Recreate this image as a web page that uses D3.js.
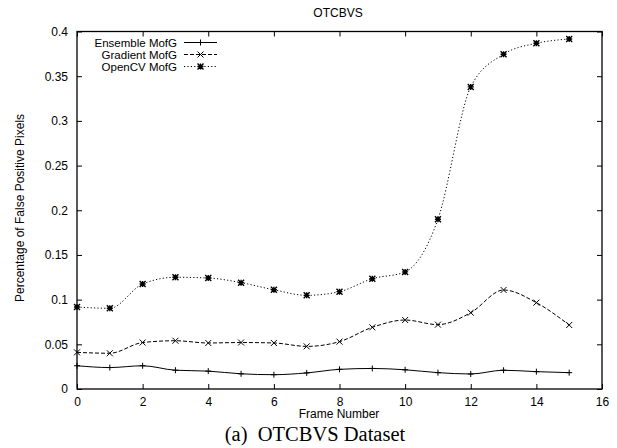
<!DOCTYPE html>
<head>
  <meta charset="utf-8">
  <script src="https://d3js.org/d3.v7.min.js"></script>
  <style>
    body { margin:0; background:#fff; }
    text { font-family: "Liberation Sans", Arial, sans-serif; fill:#000; }
  </style>
</head>
<body>
  <svg id="chart" width="617" height="448"></svg>
  <script>
    // data
    var frames = d3.range(0, 16);
    var ensemble = [0.026, 0.024, 0.026, 0.021, 0.020, 0.017, 0.016, 0.018, 0.022, 0.023, 0.0215, 0.0183, 0.0168, 0.021, 0.0194, 0.0183];
    var gradient = [0.041, 0.040, 0.052, 0.054, 0.0515, 0.052, 0.0515, 0.0477, 0.053, 0.069, 0.0772, 0.072, 0.0854, 0.1108, 0.0966, 0.0716];
    var opencv = [0.0917, 0.0903, 0.1175, 0.125, 0.1242, 0.119, 0.111, 0.1048, 0.1089, 0.1234, 0.131, 0.190, 0.338, 0.3745, 0.3868, 0.3916];
    var xTicks = [0, 2, 4, 6, 8, 10, 12, 14, 16];
    var yTicks = [0, 0.05, 0.1, 0.15, 0.2, 0.25, 0.3, 0.35, 0.4];

    var series = [
      {name: "Ensemble MofG", values: ensemble, dash: null, marker: "plus"},
      {name: "Gradient MofG", values: gradient, dash: "4,2", marker: "cross"},
      {name: "OpenCV MofG", values: opencv, dash: "1.2,2.2", marker: "star"}
    ];

    var pLeft = 77, pRight = 602, pTop = 31.5, pBottom = 389;
    var svg = d3.select("#chart");
    var x = d3.scaleLinear().domain([0, 16]).range([pLeft, pRight]);
    var y = d3.scaleLinear().domain([0, 0.4]).range([pBottom, pTop]);

    // tick marks (inward, mirrored)
    var tl = 5;
    svg.append("g").attr("transform", "translate(0," + pBottom + ")")
      .call(d3.axisBottom(x).tickValues(xTicks).tickSize(-tl).tickPadding(8).tickFormat(d3.format("d")))
      .call(function(g){ g.select(".domain").remove(); g.selectAll("text").style("font-size","12px").attr("font-family", null); });
    svg.append("g").attr("transform", "translate(0," + pTop + ")")
      .call(d3.axisTop(x).tickValues(xTicks).tickSize(-tl).tickFormat(""))
      .call(function(g){ g.select(".domain").remove(); });
    svg.append("g").attr("transform", "translate(" + pLeft + ",0)")
      .call(d3.axisLeft(y).tickValues(yTicks).tickSize(-tl).tickPadding(9).tickFormat(function(d){ return d === 0 ? "0" : String(+d.toFixed(2)); }))
      .call(function(g){ g.select(".domain").remove(); g.selectAll("text").style("font-size","12px").attr("font-family", null); });
    svg.append("g").attr("transform", "translate(" + pRight + ",0)")
      .call(d3.axisRight(y).tickValues(yTicks).tickSize(-tl).tickFormat(""))
      .call(function(g){ g.select(".domain").remove(); });

    svg.append("rect").attr("x", pLeft).attr("y", pTop)
      .attr("width", pRight - pLeft).attr("height", pBottom - pTop)
      .attr("fill", "none").attr("stroke", "#000").attr("stroke-width", 1.3);

    function marker(g, kind, cx, cy) {
      var s = 3;
      var p = d3.path();
      if (kind === "plus" || kind === "star") {
        p.moveTo(cx - s, cy); p.lineTo(cx + s, cy);
        p.moveTo(cx, cy - s); p.lineTo(cx, cy + s);
      }
      if (kind === "cross" || kind === "star") {
        p.moveTo(cx - s, cy - s); p.lineTo(cx + s, cy + s);
        p.moveTo(cx - s, cy + s); p.lineTo(cx + s, cy - s);
      }
      g.append("path").attr("d", p.toString()).attr("stroke", "#000").attr("stroke-width", kind === "star" ? 1.4 : 1).attr("fill", "none");
    }

    var line = d3.line()
      .x(function(d, i){ return x(frames[i]); })
      .y(function(d){ return y(d); })
      .curve(d3.curveMonotoneX);

    series.forEach(function(s) {
      svg.append("path").datum(s.values)
        .attr("d", line)
        .attr("fill", "none").attr("stroke", "#000").attr("stroke-width", 1)
        .attr("stroke-dasharray", s.dash);
      var g = svg.append("g");
      s.values.forEach(function(v, i){ marker(g, s.marker, x(frames[i]), y(v)); });
    });

    // legend
    series.forEach(function(s, i) {
      var ly = 42.5 + i * 12;
      svg.append("text").attr("x", 177).attr("y", ly).attr("dy", "0.35em")
        .attr("text-anchor", "end").style("font-size", "11.5px").text(s.name);
      svg.append("line").attr("x1", 184).attr("x2", 217).attr("y1", ly).attr("y2", ly)
        .attr("stroke", "#000").attr("stroke-width", 1).attr("stroke-dasharray", s.dash);
      marker(svg, s.marker, 200.5, ly);
    });

    // titles
    svg.append("text").attr("x", 338).attr("y", 17).attr("text-anchor", "middle")
      .style("font-size", "12px").text("OTCBVS");
    svg.append("text").attr("x", 339).attr("y", 418).attr("text-anchor", "middle")
      .style("font-size", "12px").text("Frame Number");
    svg.append("text").attr("transform", "translate(24,208) rotate(-90)")
      .attr("text-anchor", "middle").style("font-size", "12px")
      .text("Percentage of False Positive Pixels");
    svg.append("text").attr("x", 315).attr("y", 441).attr("text-anchor", "middle")
      .style("font-family", "'Liberation Serif', 'Times New Roman', serif").style("font-size", "20.5px")
      .text("(a)\u00a0 OTCBVS Dataset");
  </script>
</body>
